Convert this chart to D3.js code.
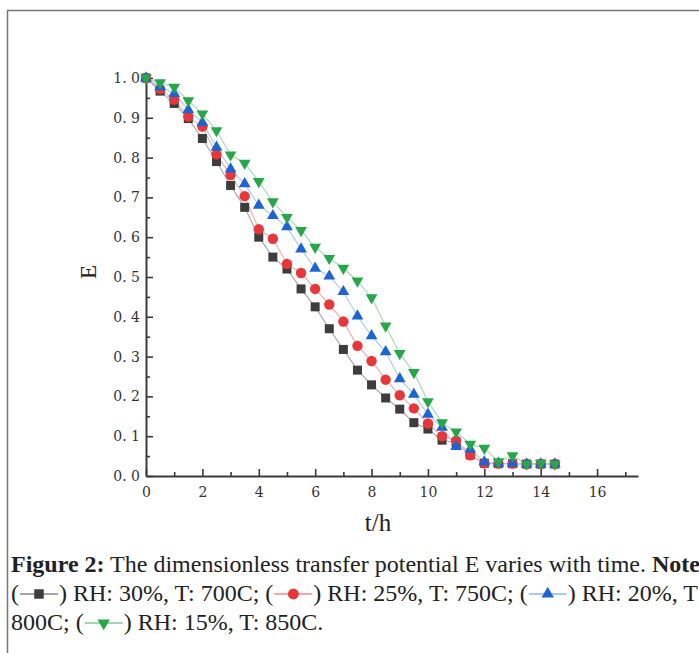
<!DOCTYPE html>
<html>
<head>
<meta charset="utf-8">
<script src="https://cdn.jsdelivr.net/npm/d3@7"></script>
<style>
  html, body { margin: 0; padding: 0; background: #fff; overflow: hidden; }
  svg { display: block; }
  .cap { white-space: pre; }
</style>
</head>
<body>
<div id="chart"></div>
<script>
// Data
const times = d3.range(0, 14.51, 0.5);

const seriesNames = ["RH: 30%, T: 700C", "RH: 25%, T: 750C", "RH: 20%, T: 800C", "RH: 15%, T: 850C"];

const e700 = [1.0, 0.967, 0.936, 0.898, 0.848, 0.79, 0.73, 0.675, 0.60, 0.55,
    0.52, 0.47, 0.425, 0.37, 0.318, 0.266, 0.229, 0.196, 0.168, 0.134,
    0.118, 0.09, 0.084, 0.053, 0.032, 0.031, 0.031, 0.03, 0.03, 0.03];
const e750 = [1.0, 0.972, 0.946, 0.903, 0.878, 0.808, 0.756, 0.703, 0.62, 0.596,
    0.533, 0.51, 0.47, 0.431, 0.388, 0.327, 0.289, 0.242, 0.203, 0.17,
    0.132, 0.1, 0.089, 0.052, 0.032, 0.031, 0.031, 0.03, 0.03, 0.03];
const e800 = [1.0, 0.978, 0.961, 0.92, 0.888, 0.826, 0.771, 0.734, 0.68, 0.654,
    0.626, 0.57, 0.522, 0.502, 0.463, 0.402, 0.352, 0.312, 0.244, 0.205,
    0.155, 0.122, 0.074, 0.067, 0.035, 0.032, 0.032, 0.03, 0.03, 0.03];
const e850 = [1.0, 0.988, 0.977, 0.943, 0.91, 0.868, 0.807, 0.786, 0.74, 0.689,
    0.65, 0.617, 0.575, 0.547, 0.522, 0.49, 0.448, 0.377, 0.308, 0.26,
    0.187, 0.134, 0.111, 0.08, 0.07, 0.036, 0.051, 0.03, 0.032, 0.03];

const xMajorTicks = [0, 2, 4, 6, 8, 10, 12, 14, 16];
const xMinorTicks = [1, 3, 5, 7, 9, 11, 13, 15, 17];
const yMajorTicks = [0, 0.1, 0.2, 0.3, 0.4, 0.5, 0.6, 0.7, 0.8, 0.9, 1.0];
const yMinorTicks = [0.05, 0.15, 0.25, 0.35, 0.45, 0.55, 0.65, 0.75, 0.85, 0.95];

const seriesValues = [e700, e750, e800, e850];
const markerColors = ["#3d3d3d", "#e8373a", "#1c63d3", "#27a64a"];
const lineColors = ["#a5a5a5", "#f2a8a8", "#adc8ec", "#a3d6b0"];
const markerTypes = ["square", "circle", "up", "down"];

const width = 699;
const height = 653;

const svg = d3.select("#chart")
    .append("svg")
    .attr("width", width)
    .attr("height", height);

// Frame of the figure box
svg.append("path")
    .attr("d", `M7.5,${height} L7.5,10.5 L${width},10.5`)
    .attr("fill", "none")
    .attr("stroke", "#777")
    .attr("stroke-width", 1.5);

// Scales
const x = d3.scaleLinear().domain([0, 17.45]).range([146, 638]);
const y = d3.scaleLinear().domain([0, 1.0075]).range([476, 75]);

const axisColor = "#3a3a3a";
const tickFont = "'DejaVu Serif', serif";

// Axes
svg.append("g")
    .attr("transform", `translate(0,${y(0)})`)
    .call(d3.axisBottom(x).tickValues(xMajorTicks).tickSizeInner(-7).tickSizeOuter(0).tickPadding(11));

svg.append("g")
    .attr("transform", `translate(0,${y(0)})`)
    .call(d3.axisBottom(x).tickValues(xMinorTicks).tickSizeInner(-4).tickSizeOuter(0).tickFormat(""))
    .call(g => g.select(".domain").remove());

svg.append("g")
    .attr("transform", `translate(${x(0)},0)`)
    .call(d3.axisLeft(y).tickValues(yMajorTicks).tickSizeInner(-7).tickSizeOuter(0).tickPadding(6)
        .tickFormat(d => d3.format(".1f")(d).replace(".", ". ")));

svg.append("g")
    .attr("transform", `translate(${x(0)},0)`)
    .call(d3.axisLeft(y).tickValues(yMinorTicks).tickSizeInner(-4).tickSizeOuter(0).tickFormat(""))
    .call(g => g.select(".domain").remove());

svg.selectAll(".domain").attr("stroke", axisColor).attr("stroke-width", 2);
svg.selectAll(".tick line").attr("stroke", axisColor).attr("stroke-width", 1.6);
svg.selectAll(".tick text")
    .style("font-family", tickFont)
    .style("font-size", "14px")
    .attr("fill", "#333")
    .style("white-space", "pre");

// Axis titles
svg.append("text")
    .attr("x", 378)
    .attr("y", 531)
    .attr("text-anchor", "middle")
    .style("font-family", "'Liberation Serif', serif")
    .style("font-size", "25px")
    .attr("fill", "#222")
    .text("t/h");

svg.append("text")
    .attr("transform", "translate(96,272) rotate(-90)")
    .attr("text-anchor", "middle")
    .style("font-family", "'Liberation Serif', serif")
    .style("font-size", "23px")
    .attr("fill", "#222")
    .text("E");

// Marker drawing
function drawMarker(g, type, color, scale = 1) {
    if (type === "square") {
        g.append("rect").attr("x", -4.5 * scale).attr("y", -4.5 * scale)
            .attr("width", 9 * scale).attr("height", 9 * scale).attr("fill", color);
    } else if (type === "circle") {
        g.append("circle").attr("r", 5.2 * scale).attr("fill", color);
    } else {
        const path = d3.symbol().type(d3.symbolTriangle).size(60 * scale * scale)();
        g.append("path").attr("d", path).attr("fill", color)
            .attr("transform", type === "down" ? "rotate(180)" : null);
    }
}

// Lines and markers
const line = d3.line()
    .x((d, i) => x(times[i]))
    .y(d => y(d));

seriesValues.forEach((vals, s) => {
    svg.append("path")
        .datum(vals)
        .attr("d", line)
        .attr("fill", "none")
        .attr("stroke", lineColors[s])
        .attr("stroke-width", 1.1);
});

seriesValues.forEach((vals, s) => {
    const pts = svg.append("g").attr("class", "series-" + s)
        .selectAll("g")
        .data(vals)
        .enter().append("g")
        .attr("transform", (d, i) => `translate(${x(times[i])},${y(d)})`);
    pts.each(function() { drawMarker(d3.select(this), markerTypes[s], markerColors[s]); });
});

// Caption with inline legend symbols
const capFont = "'Liberation Serif', serif";
const capSize = 24;
const captionLines = [
    [{ t: "Figure 2:", b: true }, { t: " The dimensionless transfer potential E varies with time. " }, { t: "Note:", b: true }],
    [{ t: "(" }, { s: 0 }, { t: ") " + seriesNames[0] + "; (" }, { s: 1 }, { t: ") " + seriesNames[1] + "; (" }, { s: 2 }, { t: ") RH: 20%, T" }],
    [{ t: "800C; (" }, { s: 3 }, { t: ") " + seriesNames[3] + "." }]
];
const capBaselines = [572, 601, 630];

captionLines.forEach((segs, li) => {
    let cx = 11;
    const by = capBaselines[li];
    segs.forEach(seg => {
        if (seg.t !== undefined) {
            const txt = svg.append("text")
                .attr("class", "cap")
                .attr("x", cx)
                .attr("y", by)
                .style("font-family", capFont)
                .style("font-size", capSize + "px")
                .style("font-weight", seg.b ? "bold" : "normal")
                .attr("fill", "#222")
                .text(seg.t);
            cx += txt.node().getComputedTextLength();
        } else {
            const w = 40;
            const g = svg.append("g").attr("transform", `translate(${cx},${by - 7})`);
            g.append("line").attr("x1", 1).attr("x2", w - 1)
                .attr("stroke", lineColors[seg.s]).attr("stroke-width", 2.2);
            const m = g.append("g").attr("transform", `translate(${w / 2},0)`);
            drawMarker(m, markerTypes[seg.s], markerColors[seg.s], 1.05);
            cx += w;
        }
    });
});
</script>
</body>
</html>
